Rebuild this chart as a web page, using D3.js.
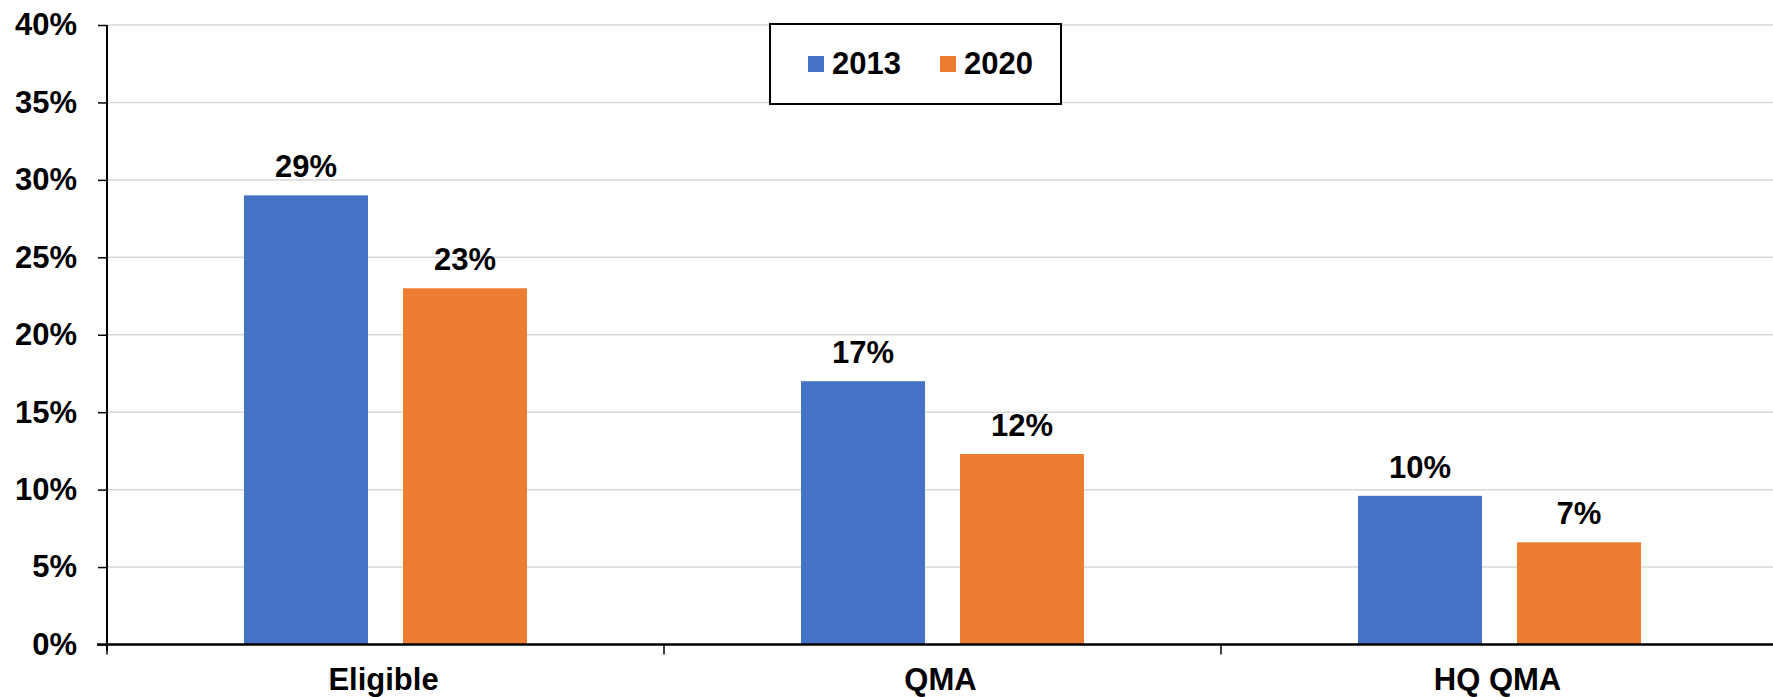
<!DOCTYPE html>
<html>
<head>
<meta charset="utf-8">
<script src="https://cdn.jsdelivr.net/npm/d3@7"></script>
<style>
  html, body { margin: 0; padding: 0; background: #fff; }
  svg { display: block; }
  text { font-family: "Liberation Sans", Arial, sans-serif; font-weight: bold; fill: #000; }
</style>
</head>
<body>
<svg id="chart" width="1773" height="697"></svg>
<script>
const categories = ["Eligible", "QMA", "HQ QMA"];
const seriesNames = ["2013", "2020"];
const values2013 = [0.29, 0.17, 0.096];
const values2020 = [0.23, 0.123, 0.066];
const yTicks = [0, 0.05, 0.10, 0.15, 0.20, 0.25, 0.30, 0.35, 0.40];
const colors = ["#4472C4", "#ED7D31"];

const W = 1773, H = 697;
const FS = "31px";
const margin = { top: 25, right: -5, bottom: 52.5, left: 107 };
const svg = d3.select("#chart");

const x0 = d3.scaleBand().domain(categories)
  .range([margin.left, W - margin.right]).padding(0);
const x1 = d3.scaleBand().domain(seriesNames)
  .range([0, x0.bandwidth()]).paddingInner(0.22).paddingOuter(0.8616);
const y = d3.scaleLinear().domain([0, 0.4]).range([H - margin.bottom, margin.top]);
const color = d3.scaleOrdinal().domain(seriesNames).range(colors);

const rows = categories.map((c, i) => ({
  cat: c,
  vals: [{ s: "2013", v: values2013[i] }, { s: "2020", v: values2020[i] }]
}));

// gridlines
svg.append("g").selectAll("line").data(yTicks.filter(d => d > 0)).join("line")
  .attr("x1", margin.left).attr("x2", W)
  .attr("y1", d => y(d)).attr("y2", d => y(d))
  .attr("stroke", "#d9d9d9").attr("stroke-width", 1.5);

// bars
const groups = svg.append("g").selectAll("g").data(rows).join("g")
  .attr("transform", d => `translate(${x0(d.cat)},0)`);
groups.selectAll("rect").data(d => d.vals).join("rect")
  .attr("x", d => x1(d.s)).attr("width", x1.bandwidth())
  .attr("y", d => y(d.v)).attr("height", d => y(0) - y(d.v))
  .attr("fill", d => color(d.s));
groups.selectAll("text").data(d => d.vals).join("text")
  .attr("x", d => x1(d.s) + x1.bandwidth() / 2)
  .attr("y", d => y(d.v) - 18)
  .attr("text-anchor", "middle")
  .style("font-size", FS)
  .text(d => d3.format(".0%")(d.v));

// y axis
const yAxis = svg.append("g").attr("transform", `translate(${margin.left},0)`)
  .call(d3.axisLeft(y).tickValues(yTicks).tickFormat(d3.format(".0%"))
    .tickSize(9).tickPadding(21).tickSizeOuter(0));
yAxis.select(".domain").remove();
yAxis.selectAll(".tick line").attr("stroke", "#000").attr("stroke-width", 1.5);
yAxis.selectAll("text").style("font-size", FS).style("font-family", "Liberation Sans, Arial, sans-serif").style("font-weight", "bold").attr("fill", "#000");
svg.append("line")
  .attr("x1", margin.left).attr("x2", margin.left)
  .attr("y1", y(0.4)).attr("y2", y(0) + 6)
  .attr("stroke", "#000").attr("stroke-width", 2);

// x axis
const xg = svg.append("g").attr("transform", `translate(0,${y(0)})`);
xg.append("line").attr("x1", margin.left - 10).attr("x2", W)
  .attr("y1", 0).attr("y2", 0).attr("stroke", "#000").attr("stroke-width", 2.5);
xg.selectAll("line.tk").data(categories).join("line").attr("class", "tk")
  .attr("x1", d => x0(d)).attr("x2", d => x0(d))
  .attr("y1", 0).attr("y2", 10).attr("stroke", "#000").attr("stroke-width", 1.5);
xg.selectAll("text").data(categories).join("text")
  .attr("x", d => x0(d) + x0.bandwidth() / 2 - 2).attr("y", 45)
  .attr("text-anchor", "middle").style("font-size", FS)
  .text(d => d);

// legend
const lg = svg.append("g");
lg.append("rect").attr("x", 770).attr("y", 24).attr("width", 291).attr("height", 80)
  .attr("fill", "#fff").attr("stroke", "#000").attr("stroke-width", 2);
const legX = [808, 940];
const li = lg.selectAll("g").data(seriesNames).join("g")
  .attr("transform", (d, i) => `translate(${legX[i]},0)`);
li.append("rect").attr("x", 0).attr("y", 56).attr("width", 16).attr("height", 16)
  .attr("fill", d => color(d));
li.append("text").attr("x", 24).attr("y", 74).style("font-size", FS).text(d => d);
</script>
</body>
</html>
